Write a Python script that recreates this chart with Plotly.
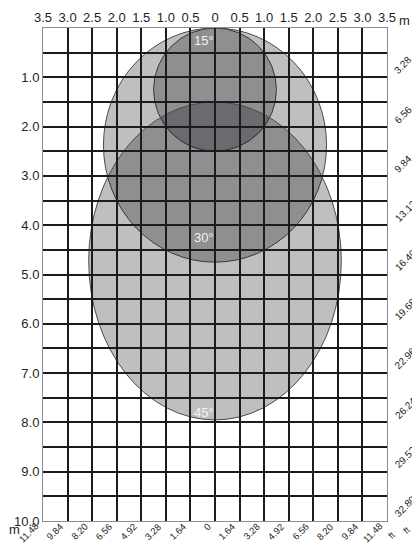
import plotly.graph_objects as go

# ---- axis ticks (metres) ----
x_ticks_m = [-3.5, -3.0, -2.5, -2.0, -1.5, -1.0, -0.5, 0.0, 0.5, 1.0, 1.5, 2.0, 2.5, 3.0, 3.5]
x_tick_text = ["3.5", "3.0", "2.5", "2.0", "1.5", "1.0", "0.5", "0",
               "0.5", "1.0", "1.5", "2.0", "2.5", "3.0", "3.5"]
y_ticks_m = [0.5, 1.0, 1.5, 2.0, 2.5, 3.0, 3.5, 4.0, 4.5, 5.0,
             5.5, 6.0, 6.5, 7.0, 7.5, 8.0, 8.5, 9.0, 9.5, 10.0]
y_tick_text = ["", "1.0", "", "2.0", "", "3.0", "", "4.0", "", "5.0",
               "", "6.0", "", "7.0", "", "8.0", "", "9.0", "", "10.0"]

# ---- secondary (feet) labels ----
x_ft_text = ["11.48", "9.84", "8.20", "6.56", "4.92", "3.28", "1.64", "0",
             "1.64", "3.28", "4.92", "6.56", "8.20", "9.84", "11.48"]
y_ft_pos_m = [1, 2, 3, 4, 5, 6, 7, 8, 9, 10]
y_ft_text = ["3.28", "6.56", "9.84", "13.12", "16.40", "19.68", "22.96", "26.24", "29.52", "32.80"]

# ---- coverage zones (tilt angle) ----
zone_labels = ["15°", "30°", "45°"]
zone_half_width = [1.25, 2.27, 2.57]
zone_near = [0.0, 0.0, 1.5]
zone_far = [2.5, 4.75, 7.95]

FONT = "Liberation Sans, Arial, sans-serif"
TXT = "#231f20"

fig = go.Figure()
fig.add_trace(go.Scatter(x=[0], y=[0], mode="markers", marker=dict(opacity=0),
                         hoverinfo="skip", showlegend=False))

shapes = []
for hw, n, f in zip(zone_half_width, zone_near, zone_far):
    shapes.append(dict(type="circle", xref="x", yref="y",
                       x0=-hw, x1=hw, y0=n, y1=f,
                       fillcolor="rgba(0,0,8,0.25)",
                       line=dict(color="#4a4a4a", width=1), layer="below"))

annotations = []
label_y = [0.25, 4.25, 7.8]
for lab, ly in zip(zone_labels, label_y):
    annotations.append(dict(x=0, y=ly, xref="x", yref="y", text=lab, showarrow=False,
                            xshift=-11, font=dict(family=FONT, size=13, color="#f2f2f2")))

for xv, t in zip(x_ticks_m, x_ft_text):
    annotations.append(dict(x=xv, y=10, xref="x", yref="y", text=t, showarrow=False,
                            textangle=-45, xanchor="right", yanchor="top",
                            xshift=-1, yshift=2, borderpad=0,
                            font=dict(family=FONT, size=9.5, color=TXT)))
for yv, t in zip(y_ft_pos_m, y_ft_text):
    annotations.append(dict(x=3.5, y=yv, xref="x", yref="y", text=t, showarrow=False,
                            textangle=-45, xanchor="left", yanchor="bottom",
                            xshift=4, yshift=0, borderpad=0,
                            font=dict(family=FONT, size=10, color=TXT)))

# unit labels
annotations.append(dict(x=1, y=1, xref="paper", yref="paper", text="m", showarrow=False,
                        xanchor="center", yanchor="middle", xshift=17, yshift=8,
                        font=dict(family=FONT, size=13, color=TXT)))
annotations.append(dict(x=0, y=0, xref="paper", yref="paper", text="m", showarrow=False,
                        xanchor="center", yanchor="middle", xshift=-29, yshift=-8,
                        font=dict(family=FONT, size=13, color=TXT)))
annotations.append(dict(x=1, y=0, xref="paper", yref="paper", text="ft", showarrow=False,
                        textangle=-45, xanchor="center", yanchor="middle", xshift=5, yshift=-14,
                        font=dict(family=FONT, size=9, color=TXT)))
annotations.append(dict(x=1, y=0, xref="paper", yref="paper", text="ft", showarrow=False,
                        textangle=-45, xanchor="center", yanchor="middle", xshift=20, yshift=-9,
                        font=dict(family=FONT, size=9, color=TXT)))

fig.update_layout(
    width=412, height=547,
    margin=dict(l=43, r=25, t=28, b=26, autoexpand=False),
    paper_bgcolor="white", plot_bgcolor="white",
    showlegend=False,
    shapes=shapes, annotations=annotations,
    xaxis=dict(range=[-3.5, 3.5], side="top", tickmode="array", automargin=False,
               tickvals=x_ticks_m, ticktext=x_tick_text, ticks="",
               showgrid=True, gridcolor="#1c1c1c", gridwidth=2.3, zeroline=False,
               showline=True, linecolor="#8c8c8c", linewidth=1, mirror=True,
               tickfont=dict(family=FONT, size=13, color=TXT), fixedrange=True),
    yaxis=dict(range=[10, 0], tickmode="array", automargin=False,
               tickvals=y_ticks_m, ticktext=y_tick_text, ticks="",
               showgrid=True, gridcolor="#1c1c1c", gridwidth=2.3, zeroline=False,
               showline=True, linecolor="#8c8c8c", linewidth=1, mirror=True,
               tickfont=dict(family=FONT, size=13, color=TXT), fixedrange=True),
)

fig.write_html("out.html", config={"displayModeBar": False},
               post_script="document.body.style.margin='0';document.body.style.overflow='hidden';")
